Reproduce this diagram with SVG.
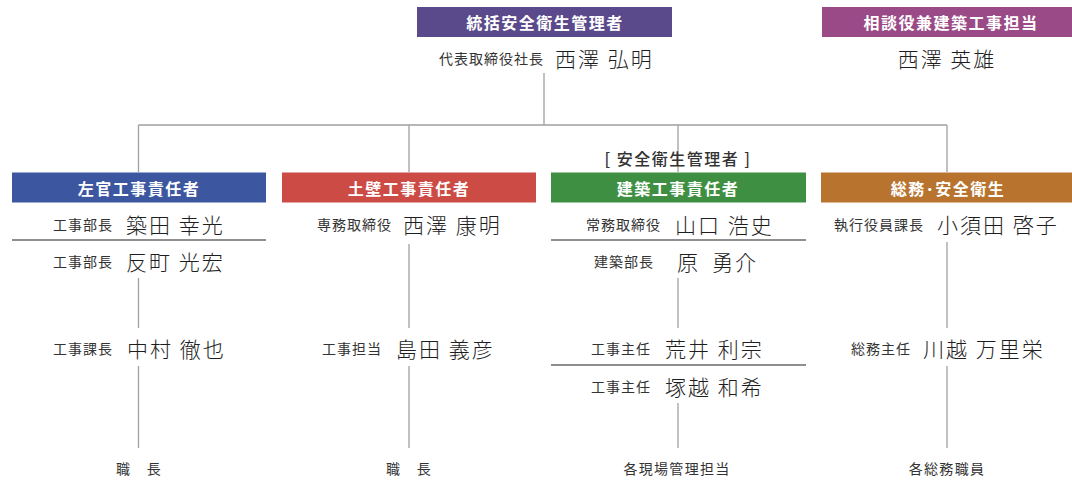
<svg xmlns="http://www.w3.org/2000/svg" width="1072" height="481" viewBox="0 0 1072 481">
<style>
text{font-family:"Noto Sans CJK JP","Noto Sans CJK SC",sans-serif;dominant-baseline:central;}
.hd{font-size:16px;font-weight:700;fill:#fff;letter-spacing:1.5px;text-anchor:middle;}
.tt{font-size:14px;fill:#333;letter-spacing:1px;text-anchor:end;}
.nm{font-size:21px;font-weight:300;fill:#1e1e1e;letter-spacing:2px;}
.bt{font-size:14px;fill:#333;letter-spacing:1.3px;text-anchor:middle;}
.br{font-size:16px;fill:#333;font-weight:500;letter-spacing:1.5px;text-anchor:middle;}
.cn{stroke:#a0a0a0;stroke-width:1.3;fill:none;}
.dv{stroke:#6a6a6a;stroke-width:1.6;}
</style>
<rect width="1072" height="481" fill="#fff"/>
<g id="connectors" class="cn">
<path d="M544 73V125M138.5 125H947M138.5 125V172M409 125V172M678 125V172M947 125V172"/>
<path d="M138.5 278V328M138.5 366V448"/>
<path d="M409 244V328M409 366V448"/>
<path d="M678 278V328M678 403V448"/>
<path d="M947 242V328M947 366V448"/>
</g>
<g id="top">
<rect x="417" y="7" width="255" height="30" fill="#5b4a8b"/>
<text class="hd" x="545" y="22">統括安全衛生管理者</text>
<text class="tt" x="544" y="58">代表取締役社長</text>
<text class="nm" x="555" y="58">西澤 弘明</text>
</g>
<g id="advisor">
<rect x="822" y="7" width="250" height="30" fill="#9a4a86"/>
<text class="hd" x="951" y="22">相談役兼建築工事担当</text>
<text class="nm" x="947" y="58" text-anchor="middle">西澤 英雄</text>
</g>
<g id="sakan">
<rect x="12" y="172.5" width="254" height="30" fill="#3c579f"/>
<text class="hd" x="139" y="188">左官工事責任者</text>
<text class="tt" x="113" y="224">工事部長</text>
<text class="nm" x="126" y="224">築田 幸光</text>
<line class="dv" x1="12" y1="240" x2="266" y2="240"/>
<text class="tt" x="113" y="261">工事部長</text>
<text class="nm" x="126" y="261">反町 光宏</text>
<text class="tt" x="113" y="348">工事課長</text>
<text class="nm" x="127" y="348">中村 徹也</text>
<text class="bt" x="139" y="468">職　長</text>
</g>
<g id="dokabe">
<rect x="282" y="172.5" width="254" height="30" fill="#cc4b44"/>
<text class="hd" x="409" y="188">土壁工事責任者</text>
<text class="tt" x="392" y="224">専務取締役</text>
<text class="nm" x="403" y="224">西澤 康明</text>
<text class="tt" x="382" y="348">工事担当</text>
<text class="nm" x="396" y="348">島田 義彦</text>
<text class="bt" x="409" y="468">職　長</text>
</g>
<g id="kenchiku">
<text class="br" x="678" y="158">[ 安全衛生管理者 ]</text>
<rect x="551" y="172.5" width="255" height="30" fill="#3e8f42"/>
<text class="hd" x="678" y="188">建築工事責任者</text>
<text class="tt" x="661" y="224">常務取締役</text>
<text class="nm" x="675" y="224">山口 浩史</text>
<line class="dv" x1="551" y1="240" x2="806" y2="240"/>
<text class="tt" x="654" y="261">建築部長</text>
<text class="nm" x="677" y="261">原<tspan x="712">勇介</tspan></text>
<text class="tt" x="651" y="348">工事主任</text>
<text class="nm" x="665" y="348">荒井 利宗</text>
<line class="dv" x1="551" y1="365" x2="806" y2="365"/>
<text class="tt" x="651" y="386">工事主任</text>
<text class="nm" x="665" y="386">塚越 和希</text>
<text class="bt" x="677" y="468">各現場管理担当</text>
</g>
<g id="somu">
<rect x="821" y="172.5" width="251" height="30" fill="#b8732f"/>
<text class="hd" x="948" y="188">総務･安全衛生</text>
<text class="tt" x="924" y="224">執行役員課長</text>
<text class="nm" x="937" y="224">小須田 啓子</text>
<text class="tt" x="911" y="348">総務主任</text>
<text class="nm" x="923" y="348">川越 万里栄</text>
<text class="bt" x="947" y="468">各総務職員</text>
</g>
</svg>
